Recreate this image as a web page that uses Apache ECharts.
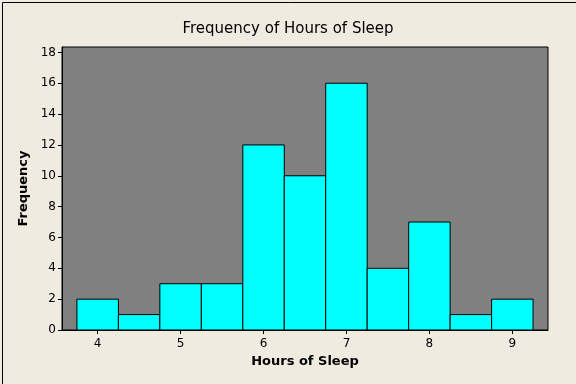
<!DOCTYPE html>
<html><head><meta charset="utf-8">
<script src="https://cdn.jsdelivr.net/npm/echarts@6/dist/echarts.min.js"></script>
<style>html,body{margin:0;padding:0;background:#EFEBE1}#c{width:576px;height:384px}</style>
</head><body><div id="c"></div>
<script>
const binCenters = [4, 4.5, 5, 5.5, 6, 6.5, 7, 7.5, 8, 8.5, 9];
const frequencies = [2, 1, 3, 3, 12, 10, 16, 4, 7, 1, 2];
const binWidth = 0.5;
const xTicks = [4, 5, 6, 7, 8, 9];
const yTicks = [0, 2, 4, 6, 8, 10, 12, 14, 16, 18];

const data = binCenters.map((c, i) => [c - binWidth / 2, c + binWidth / 2, frequencies[i]]);
const chart = echarts.init(document.getElementById('c'));
const font = 'Tahoma, "DejaVu Sans", sans-serif';
chart.setOption({
  backgroundColor: '#EFEBE1',
  animation: false,
  title: {
    text: 'Frequency of Hours of Sleep', left: 'center', top: 17,
    textStyle: {fontFamily: font, fontSize: 15, fontWeight: 'normal', color: '#000'}
  },
  grid: {left: 62, right: 28, top: 47, bottom: 54, show: true, backgroundColor: '#808080', borderColor: '#000', borderWidth: 1},
  xAxis: {
    type: 'value', min: 3.57, max: 9.43,
    name: 'Hours of Sleep', nameLocation: 'middle', nameGap: 25,
    nameTextStyle: {fontFamily: font, fontSize: 13, fontWeight: 'bold', color: '#000'},
    axisLine: {show: true, onZero: false, lineStyle: {color: '#000'}},
    axisTick: {show: true, length: 4, lineStyle: {color: '#000'}, customValues: xTicks},
    axisLabel: {fontFamily: font, fontSize: 12, color: '#000', margin: 8, customValues: xTicks},
    splitLine: {show: false}
  },
  yAxis: {
    type: 'value', min: 0, max: 18.35,
    name: 'Frequency', nameLocation: 'middle', nameGap: 27, nameRotate: 90,
    nameTextStyle: {fontFamily: font, fontSize: 13, fontWeight: 'bold', color: '#000'},
    axisLine: {show: true, lineStyle: {color: '#000'}},
    axisTick: {show: true, length: 4, lineStyle: {color: '#000'}, customValues: yTicks},
    axisLabel: {fontFamily: font, fontSize: 12, color: '#000', margin: 6, customValues: yTicks},
    splitLine: {show: false}
  },
  series: [{
    type: 'custom',
    data: data,
    encode: {x: [0, 1], y: 2},
    renderItem: function (params, api) {
      const p0 = api.coord([api.value(0), api.value(2)]);
      const p1 = api.coord([api.value(1), 0]);
      return {
        type: 'rect',
        shape: {x: p0[0], y: p0[1], width: p1[0] - p0[0], height: p1[1] - p0[1]},
        style: {fill: '#00FFFF', stroke: '#000', lineWidth: 1}
      };
    }
  }],
  graphic: [{
    type: 'rect', left: 0, top: 0, silent: true,
    shape: {x: 0.5, y: 0.5, width: 575, height: 383},
    style: {fill: 'none', stroke: '#000', lineWidth: 1}
  }]
});
</script></body></html>
